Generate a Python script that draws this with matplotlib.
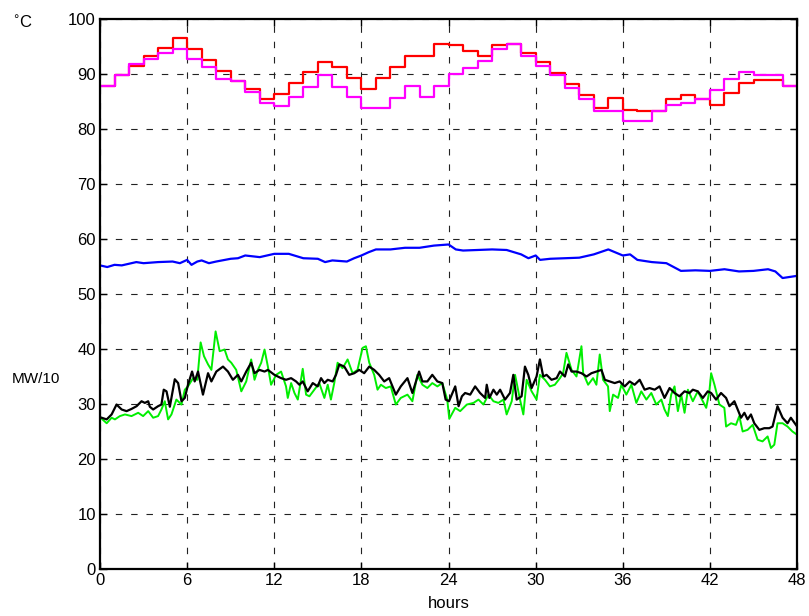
import numpy as np
import matplotlib
matplotlib.use("Agg")
import matplotlib.pyplot as plt

plt.rcParams['font.family'] = ['Liberation Sans', 'DejaVu Sans']

# hourly temperature steps (degC)
step_hours = np.arange(0, 49)
red_temp = [87.8, 89.8, 91.4, 93.2, 94.8, 96.6, 94.6, 92.5, 90.6, 88.8, 87.3, 85.5,
            86.4, 88.3, 90.3, 92.2, 91.2, 89.3, 87.2, 89.3, 91.2, 93.3, 93.3, 95.5,
            95.3, 94.2, 93.3, 95.2, 95.5, 93.9, 92.1, 90.1, 88.1, 86.1, 83.9, 85.6,
            83.5, 83.3, 83.3, 85.5, 86.1, 85.5, 84.4, 86.5, 88.4, 88.9, 88.9, 87.8]
magenta_temp = [87.8, 89.8, 91.8, 92.7, 93.8, 94.6, 92.7, 91.2, 89.1, 88.8, 86.7, 84.8,
                84.1, 85.8, 87.7, 89.8, 87.7, 85.8, 83.8, 83.8, 85.6, 87.9, 85.9, 87.9,
                90.0, 91.0, 92.4, 94.5, 95.5, 93.3, 91.5, 89.9, 87.4, 85.5, 83.3, 83.3,
                81.5, 81.5, 83.2, 84.4, 84.7, 85.5, 87.0, 89.1, 90.4, 89.9, 89.9, 87.8]

# blue line
blue_hours = [0, 0.5, 1, 1.5, 2, 2.5, 3, 4, 5, 5.5, 6, 6.3, 6.7, 7, 7.5, 8, 9, 9.5, 10, 11,
              12, 13, 13.5, 14, 15, 15.5, 16, 17, 17.5, 18, 18.5, 19, 20, 21, 22, 23, 24,
              24.5, 25, 26, 27, 28, 28.5, 29, 29.5, 30, 30.3, 31, 32, 33, 34, 35, 36, 36.5,
              37, 38, 39, 40, 41, 42, 43, 44, 45, 46, 46.5, 47, 48]
blue_vals = [55.2, 54.9, 55.3, 55.2, 55.5, 55.8, 55.6, 55.8, 55.9, 55.6, 56.2, 55.3, 55.9,
             56.1, 55.6, 55.9, 56.4, 56.5, 57.0, 56.7, 57.3, 57.3, 56.9, 56.5, 56.4, 55.8,
             56.1, 55.9, 56.5, 57.0, 57.6, 58.1, 58.1, 58.4, 58.4, 58.8, 59.0, 58.1, 57.9,
             58.0, 58.1, 58.0, 57.6, 57.2, 56.5, 57.0, 56.2, 56.4, 56.5, 56.6, 57.2, 58.1,
             57.0, 57.2, 56.2, 55.8, 55.6, 54.2, 54.3, 54.2, 54.5, 54.1, 54.2, 54.5, 54.1,
             52.9, 53.3]

# load (MW/10), black
black_hours = [0.00, 0.46, 0.80, 1.14, 1.49, 1.83, 2.17, 2.52, 2.86, 3.09, 3.32, 3.43, 3.66,
               4.00, 4.23, 4.39, 4.58, 4.81, 5.15, 5.38, 5.61, 5.84, 6.06, 6.34, 6.52, 6.75,
               7.09, 7.44, 7.67, 8.01, 8.47, 8.81, 9.15, 9.50, 9.73, 10.07, 10.41, 10.64,
               10.98, 11.33, 11.56, 12.01, 12.47, 12.81, 13.16, 13.50, 13.73, 13.96, 14.30,
               14.65, 14.99, 15.22, 15.45, 15.68, 16.02, 16.25, 16.48, 16.82, 17.16, 17.51,
               17.85, 18.19, 18.54, 18.88, 19.22, 19.57, 19.91, 20.37, 20.71, 21.17, 21.51,
               21.97, 22.20, 22.54, 22.88, 23.23, 23.57, 23.80, 24.03, 24.46, 24.69, 24.92,
               25.14, 25.49, 25.83, 26.17, 26.52, 26.63, 26.81, 27.09, 27.32, 27.55, 27.89,
               28.23, 28.46, 28.69, 29.03, 29.26, 29.49, 29.72, 30.06, 30.29, 30.52, 30.75,
               31.09, 31.44, 31.67, 32.01, 32.24, 32.47, 32.81, 33.15, 33.50, 33.84, 34.18,
               34.53, 34.76, 35.10, 35.44, 35.78, 36.13, 36.47, 36.81, 37.16, 37.50, 37.84,
               38.19, 38.53, 38.87, 39.22, 39.56, 39.90, 40.25, 40.59, 40.82, 41.16, 41.51,
               41.85, 42.08, 42.42, 42.76, 43.11, 43.34, 43.68, 43.91, 44.14, 44.37, 44.59,
               44.82, 45.05, 45.40, 45.74, 46.08, 46.31, 46.65, 47.00, 47.34, 47.57, 48.00]
black_vals = [27.6, 27.2, 28.1, 29.9, 29.0, 28.7, 29.1, 29.6, 30.5, 30.2, 30.5, 29.5, 29.0,
              29.6, 29.9, 32.6, 32.3, 29.5, 34.5, 33.8, 30.5, 31.1, 33.5, 35.9, 34.1, 35.9,
              31.7, 35.6, 34.1, 35.9, 36.8, 35.9, 34.4, 35.3, 34.1, 35.9, 37.5, 35.6,
              36.2, 35.9, 36.2, 35.3, 34.7, 34.4, 34.7, 34.1, 33.5, 34.1, 32.3,
              33.8, 33.2, 34.7, 33.8, 34.4, 34.1, 35.3, 37.2, 36.8, 35.3, 35.6,
              36.2, 35.6, 36.8, 36.2, 35.3, 34.1, 34.7, 31.7, 33.2, 34.7, 32.0,
              35.9, 34.1, 34.1, 35.3, 34.1, 33.8, 30.8, 30.5, 33.2, 29.6, 31.4,
              32.0, 31.7, 33.2, 32.0, 31.1, 33.5, 31.1, 32.6, 31.7, 32.6, 30.8,
              32.0, 35.3, 30.8, 31.4, 36.8, 35.3, 32.9, 35.0, 38.1, 35.0, 35.3,
              34.4, 34.7, 35.9, 35.0, 37.2, 35.9, 35.9, 35.6, 35.0, 35.6, 35.9,
              36.2, 34.4, 34.1, 33.8, 34.1, 33.2, 34.1, 33.5, 34.4, 32.6, 32.9,
              32.6, 33.2, 31.1, 32.9, 32.0, 31.4, 32.3, 32.0, 32.6, 32.3, 31.1,
              32.3, 32.0, 30.8, 32.0, 31.1, 29.6, 30.5, 29.0, 27.5, 28.4, 27.2,
              28.1, 26.5, 25.3, 25.6, 25.6, 25.9, 29.6, 27.5, 26.5, 27.5, 25.9]

# load (MW/10), green
green_hours = [0.00, 0.46, 0.80, 1.03, 1.37, 1.72, 2.17, 2.63, 2.97, 3.32, 3.66, 4.00, 4.23,
               4.46, 4.69, 4.92, 5.26, 5.61, 5.84, 6.06, 6.41, 6.70, 6.93, 7.16, 7.44, 7.67,
               7.96, 8.24, 8.58, 8.81, 9.04, 9.38, 9.73, 10.07, 10.41, 10.64, 10.87, 11.10,
               11.33, 11.56, 11.78, 12.13, 12.47, 12.81, 12.93, 13.16, 13.39, 13.62, 13.96,
               14.19, 14.42, 14.76, 15.10, 15.45, 15.68, 15.90, 16.13, 16.36, 16.70, 17.05,
               17.39, 17.73, 18.08, 18.31, 18.54, 18.88, 19.11, 19.34, 19.68, 20.02, 20.37,
               20.71, 21.17, 21.51, 21.85, 22.20, 22.54, 22.88, 23.23, 23.57, 23.91, 24.05,
               24.46, 24.80, 25.26, 25.72, 26.06, 26.40, 26.75, 27.09, 27.43, 27.78, 28.00,
               28.35, 28.58, 28.92, 29.15, 29.38, 29.72, 30.06, 30.29, 30.64, 30.98, 31.32,
               31.67, 31.89, 32.12, 32.47, 32.81, 33.15, 33.27, 33.61, 33.95, 34.18, 34.41,
               34.64, 34.98, 35.10, 35.33, 35.67, 35.90, 36.24, 36.59, 36.93, 37.27, 37.62,
               37.96, 38.30, 38.65, 38.87, 39.10, 39.33, 39.56, 39.79, 40.02, 40.25, 40.48,
               40.82, 41.16, 41.51, 41.74, 41.96, 42.08, 42.31, 42.65, 42.99, 43.11, 43.45,
               43.79, 44.02, 44.25, 44.59, 44.94, 45.28, 45.62, 45.97, 46.20, 46.43, 46.65,
               47.00, 47.34, 47.68, 48.00]
green_vals = [27.6, 26.5, 27.5, 27.2, 27.8, 28.1, 27.8, 28.4, 27.8, 28.7, 27.5, 27.8, 29.0,
              30.5, 27.2, 28.1, 30.8, 29.9, 32.6, 33.2, 34.7, 34.4, 41.2, 38.7, 37.2, 36.2,
              43.2, 39.6, 39.9, 38.1, 37.5, 36.2, 32.3, 34.1, 38.1, 34.4, 36.2, 37.5,
              39.9, 36.8, 33.5, 35.3, 35.9, 33.2, 31.1, 33.8, 32.0, 30.8, 36.4,
              31.7, 31.4, 32.6, 33.8, 31.1, 33.5, 30.8, 33.8, 37.5, 36.5, 38.1,
              35.6, 36.2, 40.2, 40.5, 37.5, 35.3, 32.6, 33.5, 32.9, 33.2, 29.9,
              31.1, 31.7, 30.5, 35.3, 33.5, 32.9, 33.8, 33.2, 33.8, 30.8, 27.3,
              29.3, 28.7, 29.9, 30.2, 30.8, 29.9, 31.7, 30.5, 30.2, 30.8, 28.1,
              30.5, 35.3, 30.8, 28.1, 34.4, 32.3, 30.8, 35.3, 34.4, 33.2, 33.5,
              34.7, 35.6, 39.3, 36.2, 35.0, 40.5, 35.6, 33.5, 34.7, 33.5, 39.0,
              34.4, 33.2, 28.7, 31.7, 31.1, 33.5, 31.7, 33.5, 30.2, 32.3, 30.8,
              32.0, 29.9, 30.8, 29.0, 27.8, 31.7, 33.2, 28.7, 31.7, 28.4, 32.6,
              30.5, 32.3, 30.5, 29.3, 32.3, 35.6, 33.5, 29.9, 29.3, 25.9, 26.5,
              26.2, 27.8, 25.0, 25.3, 26.2, 23.5, 23.2, 24.1, 22.0, 22.6, 26.5,
              26.5, 25.9, 25.0, 24.4]

fig = plt.figure(figsize=(8.09, 6.16), dpi=100)
ax = fig.add_axes([0.1236, 0.0763, 0.8617, 0.8929])

# steps: repeat last value so the step reaches 48 h
ax.plot(step_hours, red_temp + red_temp[-1:], drawstyle='steps-post', color='#ff0000', lw=1.6)
ax.plot(step_hours, magenta_temp + magenta_temp[-1:], drawstyle='steps-post', color='#ff00ff', lw=1.6)
ax.plot(blue_hours, blue_vals, color='#0000ff', lw=1.6)
ax.plot(green_hours, green_vals, color='#00ee00', lw=1.4)
ax.plot(black_hours, black_vals, color='black', lw=1.6)

ax.set_xlim(0, 48)
ax.set_ylim(0, 100)
ax.set_xticks(range(0, 49, 6))
ax.set_yticks(range(0, 101, 10))
ax.grid(True, color='#222222', linestyle=(0, (5.8, 8)), linewidth=0.8)
ax.tick_params(direction='in', length=5, width=1, top=True, right=True, labelsize=12, pad=3)
for s in ax.spines.values():
    s.set_linewidth(1.6)

ax.set_xlabel('hours', fontsize=12, labelpad=6)
fig.text(0.015, 0.955, '$^{\\circ}$C', fontsize=12)
fig.text(0.015, 0.378, 'MW/10', fontsize=11)

fig.savefig('out.png', dpi=100)
